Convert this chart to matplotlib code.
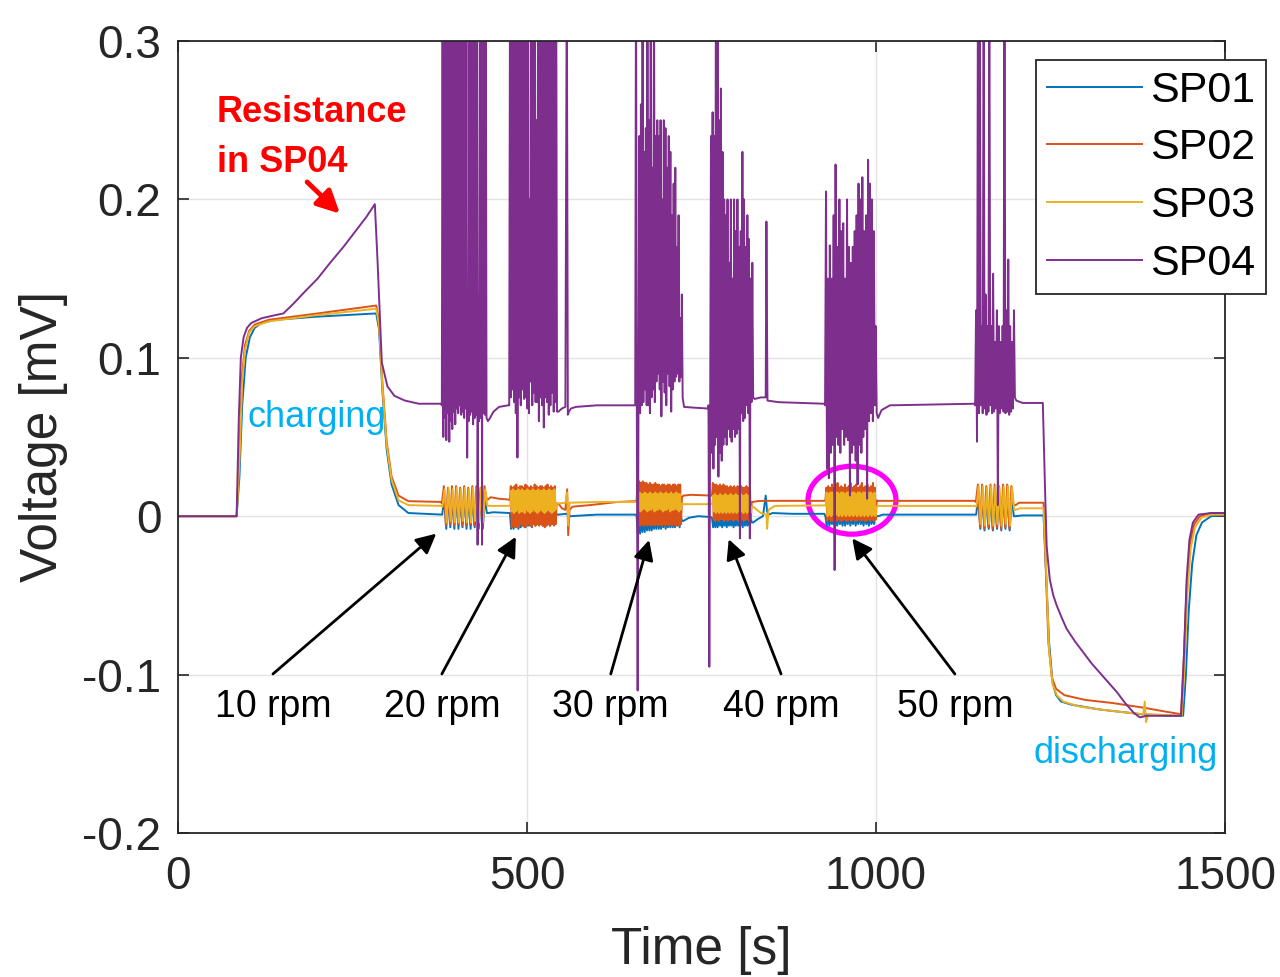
import numpy as np
import matplotlib
matplotlib.use("Agg")
import matplotlib.pyplot as plt
from matplotlib.patches import Ellipse

plt.rcParams["font.family"] = ["Liberation Sans", "DejaVu Sans"]

names = ["SP01", "SP02", "SP03", "SP04"]
colors = ["#0072BD", "#D95319", "#EDB120", "#7E2F8E"]

# slow parts of each trace: break points (time [s], voltage [mV])
sp01_t = [0, 84, 88, 92, 97, 103, 110, 120, 140, 200, 284, 288, 293, 299, 306, 316, 330, 377,
          444, 452, 474,
          545, 556, 562, 600, 656,
          724, 732, 745, 763,
          824, 830, 838, 842, 844, 846, 852, 880, 926,
          1003, 1010, 1060, 1141,
          1200, 1210, 1240, 1243, 1248, 1253, 1258, 1265, 1280, 1320, 1380, 1420, 1440,
          1444, 1448, 1453, 1459, 1467, 1480, 1500]
sp01_v = [0, 0, 0.025, 0.07, 0.1, 0.113, 0.119, 0.122, 0.124, 0.126, 0.128, 0.118, 0.078, 0.042, 0.02, 0.007, 0.002, 0.001,
          0.002, 0.0025, 0.002,
          0.001, 0.0015, 0.0, 0.001, 0.001,
          -0.003, -0.001, 0.0, -0.0005,
          -0.004, -0.002, 0.0, 0.013, 0.003, 0.001, 0.002, 0.0015, 0.0015,
          0.0, 0.001, 0.001, 0.001,
          0.0, 0.0005, 0.0005, -0.03, -0.08, -0.105, -0.113, -0.117, -0.119, -0.122, -0.125, -0.126, -0.126,
          -0.1, -0.06, -0.03, -0.012, -0.004, 0.0, 0.001]

sp02_t = [0, 84, 88, 92, 96, 102, 110, 130, 200, 284, 288, 293, 299, 306, 316, 330, 377,
          444, 448, 460, 474,
          545, 550, 555, 557.5, 559, 561, 565, 590, 630, 656,
          724, 735, 763,
          824, 830, 840, 926,
          1003, 1060, 1141,
          1200, 1205, 1240, 1243, 1247, 1252, 1258, 1270, 1300, 1340, 1385, 1410, 1437,
          1441, 1445, 1450, 1456, 1464, 1480, 1500]
sp02_v = [0, 0, 0.04, 0.09, 0.108, 0.117, 0.121, 0.124, 0.128, 0.133, 0.123, 0.083, 0.047, 0.025, 0.013, 0.0095, 0.009,
          0.0105, 0.012, 0.011, 0.0105,
          0.008, 0.005, 0.004, 0.017, -0.012, 0.004, 0.006, 0.007, 0.009, 0.0095,
          0.013, 0.0135, 0.013,
          0.009, 0.0095, 0.0097, 0.0097,
          0.0097, 0.0097, 0.0097,
          0.007, 0.0085, 0.0085, -0.03, -0.08, -0.102, -0.109, -0.113, -0.116, -0.118, -0.121, -0.123, -0.125,
          -0.09, -0.045, -0.017, -0.005, 0.0, 0.002, 0.002]

sp03_t = [0, 84, 88, 92, 96, 102, 110, 130, 200, 284, 288, 293, 299, 306, 316, 330, 377,
          444, 474,
          545, 555, 557.5, 559, 561, 600, 656,
          724, 763,
          824, 835, 843, 844, 846, 855, 926,
          1003, 1141,
          1200, 1206, 1240, 1243.5, 1248, 1253, 1259, 1268, 1290, 1320, 1360, 1383, 1385, 1387, 1390, 1438,
          1442, 1446, 1451, 1457, 1466, 1480, 1500]
sp03_v = [0, 0, 0.035, 0.085, 0.105, 0.116, 0.12, 0.123, 0.127, 0.131, 0.121, 0.081, 0.045, 0.023, 0.01, 0.007, 0.0065,
          0.0065, 0.0065,
          0.008, 0.0085, 0.015, -0.006, 0.0085, 0.009, 0.009,
          0.0076, 0.0076,
          0.006, 0.002, 0.001, -0.008, 0.004, 0.0065, 0.0068,
          0.0065, 0.0065,
          0.004, 0.005, 0.005, -0.03, -0.085, -0.106, -0.113, -0.117, -0.12, -0.122, -0.124, -0.125, -0.117, -0.13, -0.125, -0.126,
          -0.095, -0.05, -0.02, -0.007, -0.001, 0.001, 0.001]

sp04_t = [0, 84, 87, 90, 94, 99, 105, 120, 140, 151, 165, 180, 200, 218, 237, 256, 270, 282, 286, 292, 300, 310, 325, 345, 377,
          444, 447, 452, 460, 473,
          545, 550, 555, 557, 558.5, 560, 563, 570, 600, 654,
          725, 740, 759,
          826, 835, 842, 843, 844.5, 860, 926,
          1003, 1008, 1020, 1141,
          1201, 1210, 1239, 1242, 1244.5, 1249, 1254, 1259, 1266, 1273, 1285, 1297, 1309, 1321, 1333, 1345, 1357, 1369,
          1378, 1388, 1410, 1437, 1441, 1445, 1449, 1454, 1462, 1480, 1500]
sp04_v = [0, 0, 0.06, 0.1, 0.113, 0.119, 0.122, 0.125, 0.127, 0.128, 0.134, 0.141, 0.15, 0.16, 0.17, 0.181, 0.189, 0.197, 0.16, 0.097, 0.082, 0.076, 0.073, 0.071, 0.071,
          0.06, 0.062, 0.066, 0.069, 0.07,
          0.066, 0.068, 0.069, 0.35, 0.064, 0.066, 0.068, 0.069, 0.07, 0.07,
          0.069, 0.0685, 0.068,
          0.074, 0.075, 0.075, 0.186, 0.073, 0.072, 0.071,
          0.062, 0.067, 0.07, 0.071,
          0.073, 0.0715, 0.0715, 0.02, -0.019, -0.04, -0.05, -0.0565, -0.064, -0.071, -0.079, -0.086, -0.093, -0.099, -0.105, -0.111, -0.118, -0.124,
          -0.127, -0.126, -0.126, -0.126, -0.09, -0.04, -0.015, -0.004, 0.001, 0.002, 0.002]

# rotation bursts: (start [s], end [s], samples in uV, evenly spaced in time)
sp01_bursts = [
    (378.5, 442.5, [1, 11, -8, 12, -7, 11, -8, 12, -8, 11, -7, 12, -8, 11, -8, 12, -7, 11, -8, 12, -8, 11, 2]),
    (475.5, 543, [2, -8, 2, -8, 1, -7, 2, -8, 1, -7, 2, -6, 1, -7, 2, -6, 1, -6, 2, -5, 1, -6, 2, -5, 1, -5,
                  2, -6, 1, -5, 2, -5, 1, -6, 2, -5, 1, -5, 2, 1]),
    (657, 722, [0, -11, 0, -11, -1, -10, 0, -10, -1, -9, 0, -9, -1, -9, 0, -8, -1, -8, 0, -8, -1, -8, 0, -7,
                -1, -8, 0, -7, -1, -7, 0, -7, -1, -7, 0, -6, -1, -7, 0, -3]),
    (765, 822, [-1, -7, 0, -7, -1, -7, 0, -6, -1, -7, 0, -6, -1, -7, 0, -6, -1, -6, 0, -7, -1, -6, 0, -6,
                -1, -6, 0, -7, -1, -6, 0, -6, -1, -6, 0, -4]),
    (927.5, 1001, [0, -6, 0, -6, -1, -5, 0, -6, -1, -6, 0, -5, -1, -6, 0, -6, -1, -5, 0, -6, -1, -5, 0, -6,
                   -1, -5, 0, -5, -1, -6, 0, -5, -1, -6, 0, -5, -1, -5, 0, 0]),
    (1143.5, 1197.5, [1, 12, -8, 12, -9, 11, -8, 12, -9, 12, -8, 11, -9, 12, -8, 12, -9, 11, 0]),
]
sp02_bursts = [
    (378, 442, [8, 19, -6, 18, -5, 19, -6, 19, -5, 18, -6, 19, -6, 18, -5, 19, -6, 19, -5, 18, -6, 19, 11]),
    (475.5, 542.5, [10, 19, -7, 18, -6, 19, -7, 20, -6, 18, -7, 19, -5, 19, -6, 18, -7, 20, -6, 19, -5, 18,
                    -6, 19, -7, 18, -5, 20, -6, 19, -5, 18, -6, 19, -5, 19, -6, 18, -7, 19, -6, 20, -5, 18,
                    -6, 19, -5, 18, -6, 19, -5, 8]),
    (657, 722, [10, 22, -5, 22, -6, 21, -5, 22, -6, 21, -5, 21, -6, 20, -5, 21, -6, 20, -5, 20, -6, 21, -5,
                20, -6, 20, -5, 19, -6, 20, -5, 20, -6, 19, -5, 20, -6, 20, -5, 19, -6, 20, -5, 20, -6, 19,
                -5, 20, -6, 20, -5, 12]),
    (765, 822, [13, 21, -2, 20, -3, 20, -2, 19, -3, 20, -2, 19, -2, 20, -3, 19, -2, 19, -3, 18, -2, 19, -2,
                18, -3, 19, -2, 18, -2, 19, -3, 18, -2, 19, -2, 18, -3, 18, -2, 19, -2, 18, -3, 18, -2, 9]),
    (927.5, 1001, [10, 18, -3, 19, -2, 18, -3, 20, -3, 18, -2, 19, -3, 21, -2, 18, -3, 19, -3, 18, -2, 20,
                   -3, 18, -3, 19, -2, 21, -3, 18, -2, 19, -3, 20, -3, 18, -2, 19, -3, 21, -2, 18, -3, 19,
                   -3, 20, -2, 18, -3, 19, -2, 21, -3, 18, -2, 10]),
    (1143, 1197, [9, 20, -7, 20, -8, 19, -7, 20, -8, 20, -7, 19, -8, 20, -7, 20, -8, 19, 7]),
]
sp03_bursts = [
    (379, 443, [6, 17, -4, 18, -3, 17, -4, 18, -4, 17, -3, 18, -4, 17, -4, 18, -3, 17, -4, 18, -4, 17, 7]),
    (476, 542, [7, 16, 3, 17, 2, 16, 3, 16, 4, 17, 2, 16, 3, 17, 3, 16, 2, 16, 4, 17, 3, 16, 2, 16, 3, 17,
                4, 16, 3, 16, 2, 17, 3, 16, 4, 16, 3, 17, 2, 16, 3, 16, 4, 17, 3, 16, 2, 16, 3, 17, 4, 8]),
    (657.5, 721.5, [9, 14, 4, 15, 3, 14, 4, 14, 5, 15, 4, 14, 3, 14, 4, 15, 4, 14, 5, 14, 3, 15, 4, 14, 4,
                    14, 5, 15, 4, 14, 3, 14, 4, 15, 4, 14, 5, 14, 3, 15, 4, 14, 4, 14, 5, 15, 4, 14, 3, 14,
                    4, 8]),
    (765.5, 821.5, [8, 13, 3, 14, 2, 13, 3, 13, 2, 14, 3, 13, 2, 13, 3, 14, 2, 13, 3, 13, 2, 14, 3, 13, 2,
                    13, 3, 14, 2, 13, 3, 13, 2, 14, 3, 13, 2, 13, 3, 14, 2, 13, 3, 13, 2, 6]),
    (928, 1000.5, [7, 15, 0, 14, 1, 15, 0, 15, 1, 14, 0, 15, 1, 15, 0, 14, 1, 15, 0, 15, 1, 14, 0, 15, 1,
                   15, 0, 14, 1, 15, 0, 15, 1, 14, 0, 15, 1, 15, 0, 14, 1, 15, 0, 15, 1, 14, 0, 15, 1, 15,
                   0, 14, 1, 15, 0, 6]),
    (1144, 1198, [6, 19, -5, 19, -6, 18, -5, 19, -6, 19, -5, 18, -6, 19, -5, 19, -6, 18, 4]),
]
sp04_bursts = [
    (378, 442, [70, 350, 50, 350, 62, 350, 48, 350, 65, 350, 47, 350, 60, 350, 55, 350, 66, 350, 58, 350,
                68, 330, 65, 350, 70, 350, 64, 350, 66, 350, 62, 350, 68, 350, 37, 140, 60, 350, 64, 350,
                66, 350, 58, 350, 62, 350, 64, 350, -18, 140, 60, 350, 62, 350, -18, 350, 65, 300, 64, 350, 62]),
    (474.5, 543, [70, 350, 75, 350, 80, 350, 72, 350, 65, 350, 37, 350, 75, 350, 70, 350, 80, 350, 74,
                  350, 75, 350, 68, 350, 65, 200, 85, 350, 70, 350, 78, 350, 72, 250, 72, 350, 60, 350, 75,
                  350, 70, 350, 56, 350, 75, 350, 72, 350, 64, 350, 70, 350, 78, 350, 66, 350, 72, 350, 66]),
    (655, 723, [70, 350, 68, -110, 75, 240, 65, 260, 70, 350, 72, 230, 80, 245, 70, 350, 70, 250, 65,
                350, 75, 220, 80, 350, 72, 240, 85, 250, 90, 240, 80, 250, 63, 200, 85, 250, 78, 245, 70,
                220, 90, 240, 82, 230, 66, 190, 80, 210, 85, 220, 88, 170, 90, 190, 85, 125, 88, 140, 75]),
    (760, 824, [70, -95, 60, 240, 40, 255, 30, 240, 45, 350, 50, 350, 25, 250, 40, 270, 35, 230, 45,
                200, 50, 190, 45, 200, 55, 160, 50, 200, 47, 150, 55, 200, 50, 180, 52, 200, 55, 170, -14,
                180, 65, 230, 60, 200, 62, 170, 70, 190, 65, 175, -14, 150, 72, 160, 75]),
    (927, 1001, [70, 205, 30, 150, 24, 171, 40, 150, 45, 190, -34, 222, 50, 170, 45, 200, 40, 180, 55,
                 185, 45, 150, 50, 200, 48, 170, 13, 160, 40, 170, 45, 180, 35, 190, 20, 210, 45, 200, 40,
                 214, 50, 180, 55, 190, 11, 225, 60, 210, 65, 200, 60, 180, 70, 120, 65]),
    (1142, 1199, [70, 130, 47, 350, 65, 350, 70, 120, 65, 350, 68, 140, 64, 120, 66, 350, 70, 120, 65,
                  153, 66, 110, 68, 130, 7, 120, 65, 110, 68, 120, 66, 350, 65, 130, 66, 162, 64, 120, 66,
                  110, 68, 130, 75]),
]

rpm_labels = ["10 rpm", "20 rpm", "30 rpm", "40 rpm", "50 rpm"]
rpm_text_t = [136, 378, 620, 864, 1113]
rpm_head_t = [370, 484, 675, 789, 966]
rpm_head_v = [-0.011, -0.013, -0.015, -0.0145, -0.014]


def trace(t, v, bursts):
    tt = list(t)
    vv = list(v)
    for t0, t1, vals in bursts:
        tt += list(np.linspace(t0, t1, len(vals)))
        vv += [x / 1000 for x in vals]
    order = np.argsort(tt, kind="stable")
    return np.array(tt)[order], np.array(vv)[order]


series = [
    trace(sp01_t, sp01_v, sp01_bursts),
    trace(sp02_t, sp02_v, sp02_bursts),
    trace(sp03_t, sp03_v, sp03_bursts),
    trace(sp04_t, sp04_v, sp04_bursts),
]

fig = plt.figure(figsize=(12.8, 9.77), dpi=100)
ax = fig.add_axes([178 / 1280, 1 - 833 / 977, 1047 / 1280, 792 / 977])

for (t, v), name, c in zip(series, names, colors):
    ax.plot(t, v, color=c, lw=1.4, label=name)

ax.set_xlim(0, 1500)
ax.set_ylim(-0.2, 0.3)
ax.set_xticks([0, 500, 1000, 1500])
ax.set_yticks([-0.2, -0.1, 0, 0.1, 0.2, 0.3])
ax.set_yticklabels(["-0.2", "-0.1", "0", "0.1", "0.2", "0.3"])
ax.grid(True, color="#E3E3E3", lw=1.0)
ax.set_axisbelow(True)
ax.tick_params(direction="in", length=8, width=1.2, colors="#262626", labelsize=33,
               top=True, right=True)
ax.tick_params(axis="y", pad=12)
ax.tick_params(axis="x", pad=16)
for s in ax.spines.values():
    s.set_color("#262626")
    s.set_linewidth(1.3)
ax.set_xlabel("Time [s]", fontsize=37, color="#262626", labelpad=19)
ax.set_ylabel("Voltage [mV]", fontsize=37, color="#262626", labelpad=10)

leg = ax.legend(loc="upper right", bbox_to_anchor=(1266 / 1280, 1 - 60 / 977),
                bbox_transform=fig.transFigure, borderaxespad=0, fontsize=31,
                handlelength=2.2, handletextpad=0.2, labelspacing=0.41, borderpad=0.25,
                fancybox=False, framealpha=1, edgecolor="#262626")
leg.get_frame().set_linewidth(1.3)

# annotations
ax.text(56, 0.249, "Resistance", color="red", fontsize=26, fontweight="bold")
ax.text(56, 0.217, "in SP04", color="red", fontsize=26, fontweight="bold")
ax.annotate("", xy=(232, 0.191), xytext=(185, 0.211),
            arrowprops=dict(arrowstyle="-|>", color="red", lw=3.5, mutation_scale=34,
                            shrinkA=0, shrinkB=0))
ax.text(100, 0.056, "charging", color="#00B0F0", fontsize=26)
ax.text(1225, -0.156, "discharging", color="#00B0F0", fontsize=26)

for lab, tx, hx, hy in zip(rpm_labels, rpm_text_t, rpm_head_t, rpm_head_v):
    ax.annotate("", xy=(hx, hy), xytext=(tx, -0.0996),
                arrowprops=dict(arrowstyle="-|>", color="black", lw=2, mutation_scale=30,
                                shrinkA=0, shrinkB=0))
    ax.text(tx, -0.1267, lab, color="black", fontsize=27, ha="center", va="baseline")

ax.add_patch(Ellipse((965.6, 0.0101), 126, 0.0429, fill=False, ec="#FF00FF", lw=3.8))

fig.savefig("out.png", dpi=100)
